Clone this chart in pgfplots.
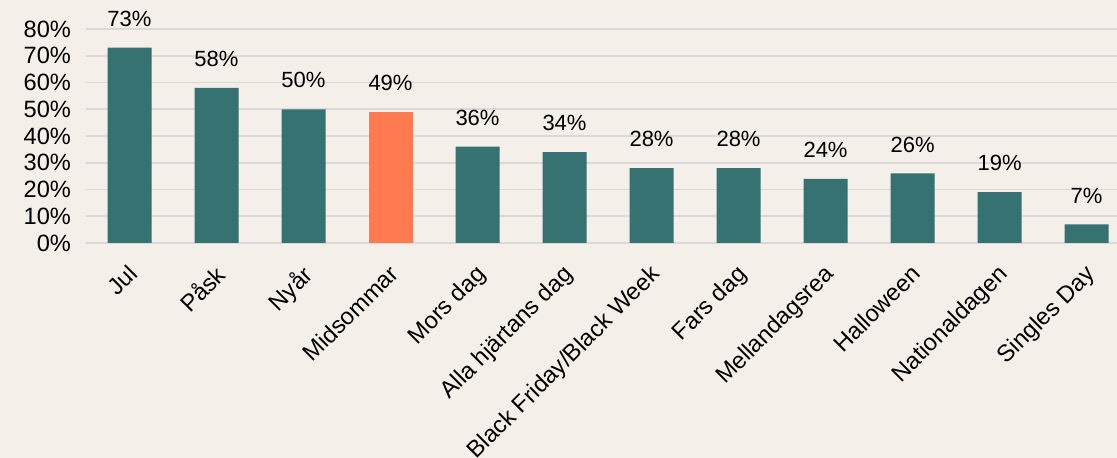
\documentclass[border=0pt]{standalone}
\usepackage{fontspec}
\setmainfont{Liberation Sans}
\usepackage{pgfplots}
\pgfplotsset{compat=1.18}
\definecolor{bg}{HTML}{F4EFE9}
\definecolor{teal}{HTML}{357271}
\definecolor{orng}{HTML}{FF7A50}
\definecolor{gridc}{HTML}{D9D9D9}
\begin{document}
\begin{tikzpicture}
  \fill[bg] (-43pt,-107.5pt) rectangle (515.5pt,121.5pt);
  \useasboundingbox (-43pt,-107.5pt) rectangle (515.5pt,121.5pt);
  \begin{axis}[
      at={(0,0)}, anchor=south west,
      scale only axis,
      width=515.5pt, height=107pt,
      ybar, bar width=22pt, bar shift=0pt,
      xmin=-0.5, xmax=11.35,
      ymin=0, ymax=80,
      ytick={0,10,...,80},
      yticklabel={\pgfmathprintnumber{\tick}\%},
      xtick={0,...,11},
      xticklabels={Jul,Påsk,Nyår,Midsommar,Mors dag,Alla hjärtans dag,
                   Black Friday/Black Week,Fars dag,Mellandagsrea,Halloween,
                   Nationaldagen,Singles Day},
      xticklabel style={rotate=45, anchor=north east, inner sep=0pt,
                        xshift=-5pt, yshift=-3pt,
                        font=\fontsize{11.8}{13}\selectfont},
      yticklabel style={font=\fontsize{11.8}{13}\selectfont, xshift=-4pt},
      /pgf/number format/assume math mode=true,
      ymajorgrids, grid style={gridc, line width=0.8pt},
      axis line style={draw=none},
      tick style={draw=none},
      clip=false,
      nodes near coords={\pgfmathprintnumber{\pgfplotspointmeta}\%},
      every node near coord/.append style={font=\fontsize{11}{12}\selectfont,
                                           text=black, yshift=7pt},
    ]
    \addplot[fill=teal, draw=none] coordinates {
      (0,73) (1,58) (2,50) (4,36) (5,34) (6,28) (7,28) (8,24) (9,26)
      (10,19) (11,7)};
    \addplot[fill=orng, draw=none] coordinates {(3,49)};
  \end{axis}
\end{tikzpicture}
\end{document}
